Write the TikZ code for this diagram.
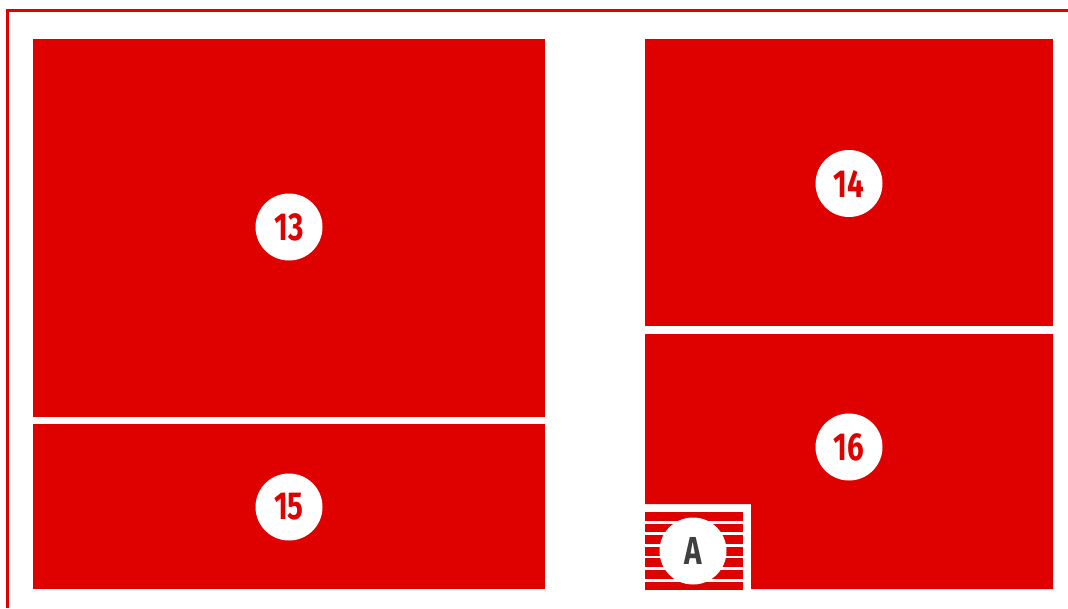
\documentclass[tikz,border=0pt]{standalone}
\usepackage{fontspec}
\newfontfamily\numfont[FakeStretch=0.76]{Fira Sans}
\definecolor{roomred}{RGB}{223,0,0}
\definecolor{labelgray}{RGB}{64,64,64}
\tikzset{
  room/.style={fill=roomred},
  badge/.style={circle, fill=white, minimum size=67pt, inner sep=0pt,
    font=\numfont\bfseries\fontsize{39}{39}\selectfont, text=roomred},
  badgeA/.style={badge, text=labelgray},
  framestroke/.style={draw=roomred, line width=3pt},
}
\begin{document}
\begin{tikzpicture}[x=1pt,y=-1pt]
\useasboundingbox (0,0) rectangle (1068,608);
% frame
\draw[framestroke] (7.5,608) -- (7.5,10.5) -- (1068,10.5);
% rooms
\fill[room] (33,39) rectangle (545,416.5);
\fill[room] (33,424) rectangle (545,589);
\fill[room] (645,39) rectangle (1053,326);
\fill[room] (645,334) -- (1053,334) -- (1053,589) -- (751,589) -- (751,504) -- (645,504) -- cycle;
% hatched area
\foreach \i in {0,...,6}{
  \fill[room] (645,{512+\i*11.6}) rectangle (742.5,{520.7+\i*11.6});
}
% badges
\node[badge] (b13) at (289,227) {13};
\node[badge] (b14) at (849,183.5) {14};
\node[badge] (b15) at (289,507) {15};
\node[badge] (b16) at (849,447) {16};
\node[badgeA] (bA) at (693,551) {A};
\end{tikzpicture}
\end{document}
